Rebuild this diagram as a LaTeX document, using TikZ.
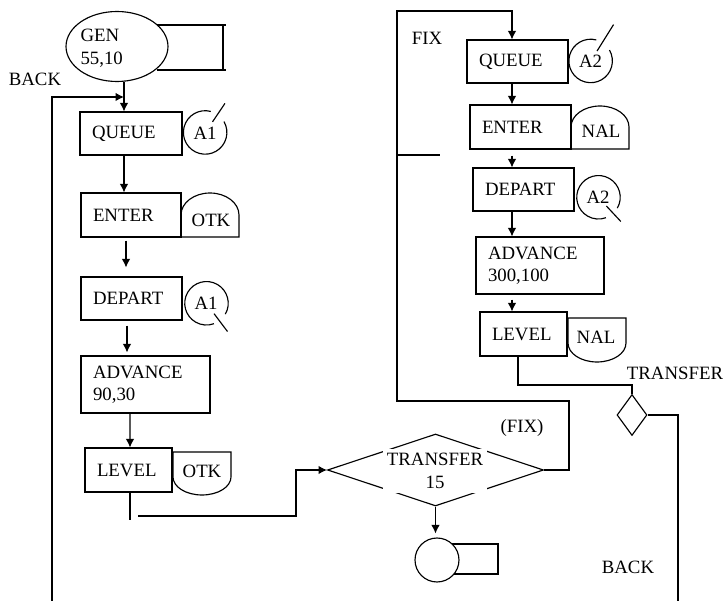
\documentclass[tikz,border=0pt]{standalone}
\usepackage{fontspec}
\setmainfont{Liberation Serif}
\usetikzlibrary{arrows.meta,calc,shapes.geometric}
\tikzset{
  blk/.style={draw, align=left, inner xsep=0.24cm, inner ysep=0pt},
  qcirc/.style={circle, minimum size=0.87cm, inner sep=0pt},
  lbl/.style={inner sep=0pt},
}
\begin{document}
\begin{tikzpicture}[x=0.02cm,y=0.02cm,line width=0.65pt,>={Latex[length=4.8pt,width=4.8pt]},
  every node/.style={font=\fontsize{10.7}{12.8}\selectfont}]
\useasboundingbox (0,0) rectangle (725,-601);
\foreach \n/\x/\y/\w/\h/\t in {q1/131/-133.5/1.56/0.86/QUEUE, en1/131/-215/1.52/0.88/ENTER,
    de1/131.5/-298.5/1.54/0.86/DEPART, ad1/145.5/-384.5/2.1/1.14/{ADVANCE\\90,30},
    le1/128.5/-470/1.26/0.88/LEVEL, q2/517.5/-61.5/1.54/0.86/QUEUE, en2/520.5/-127/1.54/0.88/ENTER,
    de2/523.5/-189.5/1.54/0.86/DEPART, ad2/540/-265.5/2.08/1.14/{ADVANCE\\300,100},
    le2/523.5/-334/1.26/0.88/LEVEL}
  \node[blk, text width=\w cm, minimum height=\h cm] (\n) at (\x,\y) {\t};

\node[ellipse, draw, minimum width=2.04cm, minimum height=1.4cm, inner sep=0pt] (gen) at (117,-46.5) {};
\node[lbl, align=left, anchor=west] (gentxt) at (80,-48) {GEN\\55,10};
\draw (157,-25) -- (226,-25) (223,-25) -- (223,-70) (157,-70) -- (226,-70);

\foreach \n/\x/\y/\t in {a1q/205/-133/A1, a1d/206/-303/A1, a2q/590.5/-61.5/A2, a2d/598/-197/A2}
  \node[qcirc] (\n) at (\x,\y) {\t};
\foreach \n in {a1q,a2q}
  \draw (\n.75) arc[start angle=75, end angle=390, radius=21.75];
\foreach \n in {a1d,a2d}
  \draw (\n.-30) arc[start angle=-30, end angle=290, radius=21.75];
\draw ($(a1q)!0.6!(a1q.56)$) -- ($(a1q)!1.6!(a1q.56)$);
\draw ($(a2q)!0.55!(a2q.58)$) -- ($(a2q)!1.95!(a2q.58)$);
\draw ($(a1d)!0.6!(a1d.-53)$) -- ($(a1d)!1.6!(a1d.-53)$);
\draw ($(a2d)!0.55!(a2d.-47)$) -- ($(a2d)!1.5!(a2d.-47)$);

\draw (181,-237) -- (239,-237) -- (239,-215) arc[start angle=0, end angle=180, x radius=29, y radius=22] -- cycle;
\node[lbl] (otk1) at (211,-220) {OTK};
\draw (173,-452) -- (231,-452) -- (231,-477) arc[start angle=0, end angle=-180, x radius=29, y radius=18] -- cycle;
\node[lbl] (otk2) at (202,-471) {OTK};
\draw (571,-149) -- (629,-149) -- (629,-127) arc[start angle=0, end angle=180, x radius=29, y radius=21] -- cycle;
\node[lbl] (nal1) at (601,-131) {NAL};
\draw (568,-318) -- (626,-318) -- (626,-343) arc[start angle=0, end angle=-180, x radius=29, y radius=19] -- cycle;
\node[lbl] (nal2) at (596,-337) {NAL};

\node[diamond, draw, minimum width=4.32cm, minimum height=1.44cm, inner sep=0pt] (tr) at (435.5,-470) {};
\node[fill=white, align=center, inner sep=2.5pt] (trtxt) at (435,-471) {TRANSFER\\15};
\node[diamond, draw, minimum width=0.6cm, minimum height=0.82cm, inner sep=0pt] (td) at (632,-415) {};
\draw (447,-544) rectangle (498,-574);
\node[circle, draw, fill=white, minimum size=0.88cm, inner sep=0pt] (term) at (437,-560) {};

\node (bl) at (35,-79) {BACK};
\node (fx) at (427,-38) {FIX};
\node (fxb) at (522,-428) {(FIX)};
\node (tl) at (675,-373) {TRANSFER};
\node (br) at (628,-567) {BACK};

\coordinate (jn) at (124,-97);
\coordinate (backl) at (52,-601);
\coordinate (backr) at (678,-601);
\coordinate (lv) at (138,-516);
\draw[->] ($(gen.south)+(7,0)$) -- ($(q1.north)+(-7,0)$);
\draw[->] (backl) |- (jn);
\draw[->] ($(q1.south)+(-7,0)$) -- ($(en1.north)+(-7,0)$);
\draw[->] ($(en1.south)+(-5,-3)$) -- ($(de1.north)+(-5.5,9)$);
\draw[->] ($(de1.south)+(-4.5,-5)$) -- ($(de1.south |- ad1.north)+(-4.5,3)$);
\draw[->] ($(ad1.south)+(-15.5,0)$) -- ($(le1.north)+(1.5,0)$);
\draw ($(le1.south)+(1.5,0)$) -- ++(0,-27);
\draw[->] (lv) -| ($(tr.west)+(-31,0)$) -- (tr.west);
\draw[->] (tr.east) -| (569,-401) -| (397,-11) -| ($(q2.north)+(-5.5,0)$);
\draw (397,-155) -- (440,-155);
\draw[->] ($(q2.south)+(-5.5,0)$) -- ($(en2.north)+(-8.5,0)$);
\draw[->] ($(en2.south)+(-8.5,-6)$) -- ($(de2.north)+(-11.5,0)$);
\draw[->] ($(de2.south)+(-11.5,0)$) -- ($(ad2.north)+(-28,0)$);
\draw[->] ($(ad2.south)+(-28,-5)$) -- ($(le2.north)+(-11.5,0)$);
\draw ($(le2.south)+(-5.5,0)$) |- ($(td.north)+(0,9)$) -- (td.north);
\draw (td.east) -| (backr);
\draw[->] (tr.south) -- ($(tr.south |- term.north)+(0,4)$);
\end{tikzpicture}
\end{document}
